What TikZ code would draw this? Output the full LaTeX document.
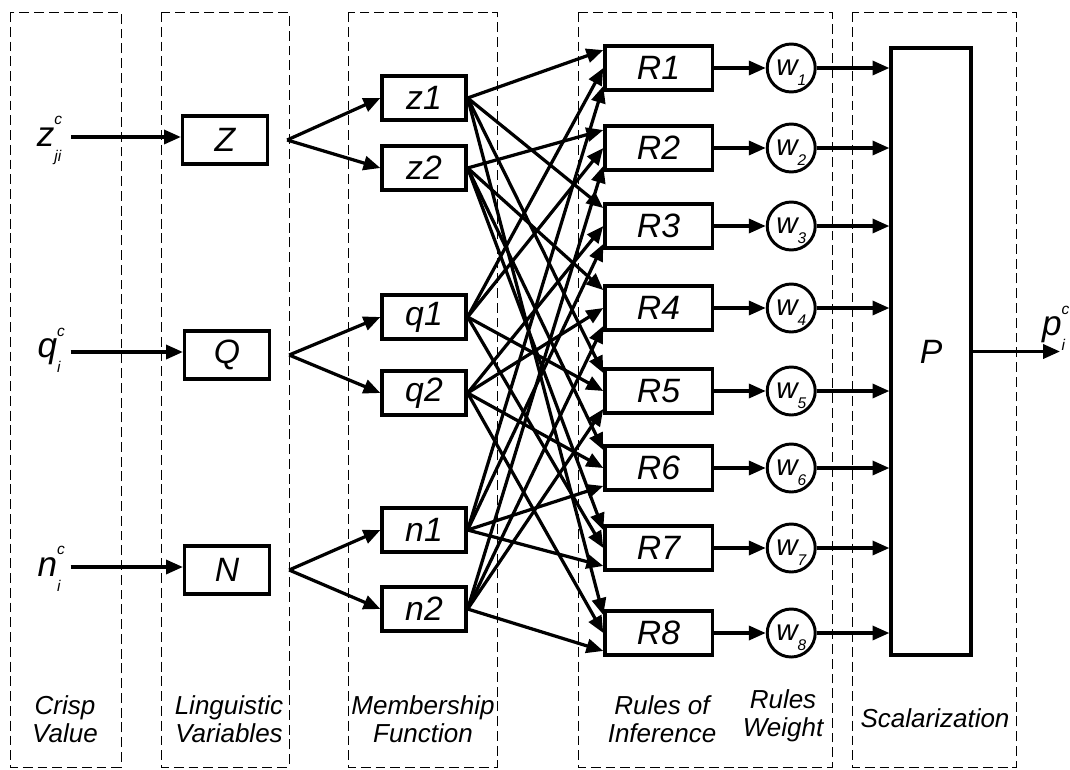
\documentclass[tikz,border=0pt]{standalone}
\usepackage{fontspec}
\setsansfont{Liberation Sans}
\usetikzlibrary{arrows.meta, positioning, calc}
\tikzset{
  every picture/.style={font=\sffamily\itshape, line width=2.3pt},
  panel/.style={draw, line width=0.7pt, dash pattern=on 7pt off 3.5pt},
  box/.style={draw, rectangle, minimum width=#1, minimum height=1.1cm, inner sep=0pt, font=\sffamily\itshape\fontsize{24}{26}\selectfont},
  box/.default=2.68cm,
  weight/.style={draw, circle, minimum size=1.2cm, inner sep=0pt, line width=2.1pt, font=\sffamily\itshape\fontsize{21}{22}\selectfont},
  arrow/.style={-{Triangle[length=12pt, width=10pt]}, line width=2.3pt},
  invar/.style={font=\sffamily\itshape\fontsize{25}{26}\selectfont, inner sep=6pt},
  caption/.style={font=\sffamily\itshape\fontsize{18.5}{20}\selectfont, align=center},
}
% letter with a stacked subscript and superscript
\newcommand{\sx}[3]{#1\rlap{\raisebox{0.62em}[0pt][0pt]{\fontsize{11}{11}\selectfont#3}}\raisebox{-0.42em}[0pt][0pt]{\fontsize{11}{11}\selectfont#2}}
\newcommand{\wsub}[1]{w\raisebox{-0.32em}[0pt][0pt]{\fontsize{11}{11}\selectfont#1}}

\begin{document}
\begin{tikzpicture}[x=0.025cm, y=-0.025cm]
  \useasboundingbox (0,0) rectangle (1070,769);
  % layers
  \draw[panel] (10,12) rectangle (121,767);
  \draw[panel] (161,12) rectangle (289,767);
  \draw[panel] (348,12) rectangle (497,767);
  \draw[panel] (578,12) rectangle (832,767);
  \draw[panel] (852,12) rectangle (1016,767);

  % crisp values and linguistic variables
  \node[invar] (zin) at (49,137) {\sx{z}{ji}{c}};
  \node[invar] (qin) at (49,352) {\sx{q}{i}{c}};
  \node[invar] (nin) at (49,567) {\sx{n}{i}{c}};
  \node[box=2.125cm, minimum height=1.2cm] (Z) at (225,140) {Z};
  \node[box=2.125cm, minimum height=1.2cm] (Q) at (227,355) {Q};
  \node[box=2.125cm, minimum height=1.2cm] (N) at (227,570) {N};

  % membership functions
  \node[box=2.1cm] (z1) at (424,98) {z1};
  \node[box=2.1cm] (z2) at (424,168) {z2};
  \node[box=2.1cm] (q1) at (424,317) {q1};
  \node[box=2.1cm] (q2) at (424,393) {q2};
  \node[box=2.1cm] (n1) at (424,530) {n1};
  \node[box=2.1cm] (n2) at (424,609) {n2};

  % rules and their weights
  \foreach \i/\y in {1/68,2/148,3/226,4/308,5/391,6/468,7/548,8/633} {
    \node[box] (R\i) at (658.5,\y) {R\i};
    \node[weight, right=1.3cm of R\i] (w\i) {\wsub{\i}};
  }
  \node[box=2cm, minimum height=15.175cm] (P) at (931,351.5) {P};

  \draw[arrow] (zin) -- (zin -| Z.west);
  \draw[arrow] (qin) -- (qin -| Q.west);
  \draw[arrow] (nin) -- (nin -| N.west);
  \coordinate (Zfork) at ($(Z.east)+(18,0)$);
  \coordinate (Qfork) at ($(Q.east)+(18,0)$);
  \coordinate (Nfork) at ($(N.east)+(18,0)$);
  \foreach \f/\a/\b in {Zfork/z1/z2, Qfork/q1/q2, Nfork/n1/n2} {
    \draw[arrow] (\f) -- (\a.west);
    \draw[arrow] (\f) -- (\b.west);
  }

  % membership functions feeding the rules
  \foreach \src/\rules/\ang in {z1/{1,3,5,8}/162, z2/{2,4,6,7}/162,
      q1/{1,2,5,7}/180, q2/{3,4,6,8}/180, n1/{1,3,6,7}/198, n2/{2,4,5,8}/198}
    \foreach \r in \rules
      \draw[arrow] (\src.east) -- (R\r.\ang);

  \foreach \i in {1,...,8} {
    \draw[arrow] (R\i) -- (w\i);
    \draw[arrow] (w\i) -- (w\i -| P.west);
  }
  \coordinate (pout) at (1060,351.5);
  \draw[arrow] (P.east) -- (pout);
  \node[invar, anchor=west] (pres) at (1032,330) {\sx{p}{i}{c}};

  % layer captions
  \node[caption] (capCrisp) at (65,719) {Crisp\\Value};
  \node[caption] (capLing) at (229,719) {Linguistic\\Variables};
  \node[caption] (capMemb) at (423,719) {Membership\\Function};
  \node[caption] (capRules) at (662,719) {Rules of\\Inference};
  \node[caption] (capWeight) at (783,716) {Rules\\Weight};
  \node[caption] (capScal) at (935,718) {Scalarization};
\end{tikzpicture}
\end{document}
